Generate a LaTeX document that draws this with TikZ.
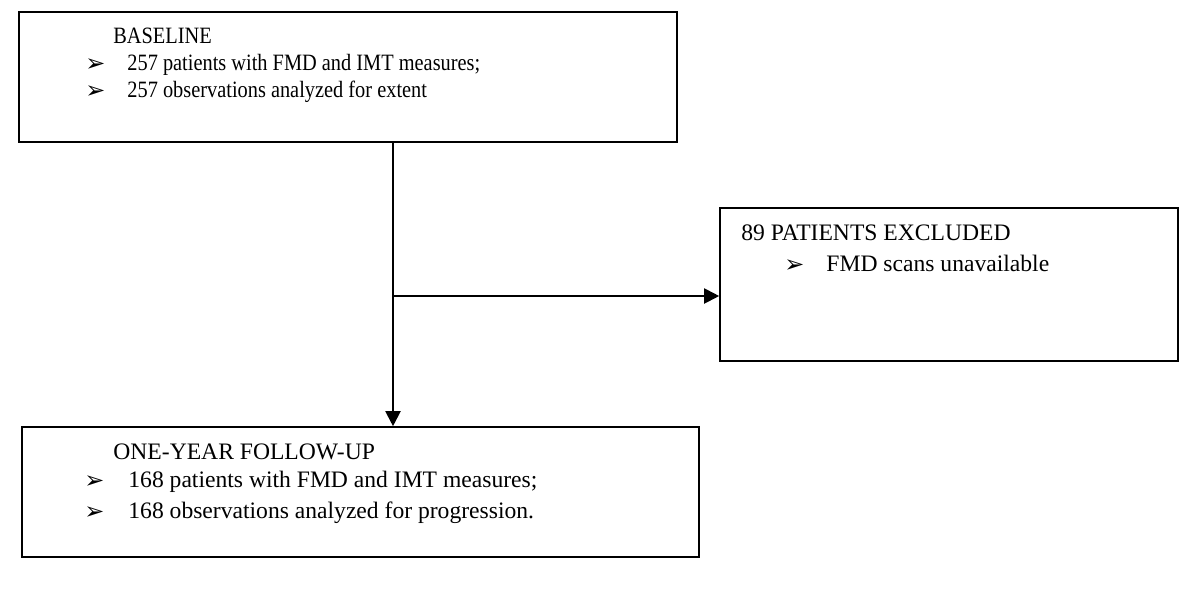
\documentclass[tikz,border=0pt]{standalone}
\usepackage{fontspec}
\setmainfont{Liberation Serif}
\newfontfamily\narrowfont[FakeStretch=0.87]{Liberation Serif}
\newfontfamily\bulletfont{DejaVu Sans}
\usetikzlibrary{arrows.meta}
\begin{document}
\begin{tikzpicture}[x=0.5pt,y=-0.5pt,
  box/.style={draw=black,line width=0.8pt,rectangle,inner sep=0pt},
  conn/.style={draw=black,line width=1pt,-{Triangle[length=7.5pt,width=7.5pt]}},
  txt/.style={anchor=base west,inner sep=0pt,font=\fontsize{11.8pt}{14pt}\selectfont},
  ntxt/.style={anchor=base west,inner sep=0pt,font=\narrowfont\fontsize{11.7pt}{14pt}\selectfont},
  bul/.style={anchor=base west,inner sep=0pt,font=\bulletfont\fontsize{12pt}{14pt}\selectfont}]
\useasboundingbox[fill=white] (0,0) rectangle (1200,590);
% boxes
\node[box,minimum width=329pt,minimum height=65pt] (top) at (348,77) {};
\node[box,minimum width=229pt,minimum height=76.5pt] (excl) at (949,284.5) {};
\node[box,minimum width=338.5pt,minimum height=65pt] (bot) at (360.5,492) {};
% top text
\node[ntxt] (t0) at (113,43) {BASELINE};
\node[bul] (tb1) at (85,71) {➢};
\node[ntxt] (t1) at (127,70) {257 patients with FMD and IMT measures;};
\node[bul] (tb2) at (85,98) {➢};
\node[ntxt] (t2) at (127,97) {257 observations analyzed for extent};
% excluded text
\node[txt] (e0) at (741,240) {89 PATIENTS EXCLUDED};
\node[bul] (eb1) at (784,272) {➢};
\node[txt] (e1) at (826,271) {FMD scans unavailable};
% bottom text
\node[txt] (b0) at (113,459) {ONE-YEAR FOLLOW-UP};
\node[bul] (bb1) at (84,488) {➢};
\node[txt] (b1) at (128,487) {168 patients with FMD and IMT measures;};
\node[bul] (bb2) at (84,519) {➢};
\node[txt] (b2) at (128,518) {168 observations analyzed for progression.};
% connectors
\coordinate (split) at (393,296);
\draw[conn] (top.south -| split) -- (bot.north -| split);
\draw[conn] (split) -- (excl.west |- split);
\end{tikzpicture}
\end{document}
